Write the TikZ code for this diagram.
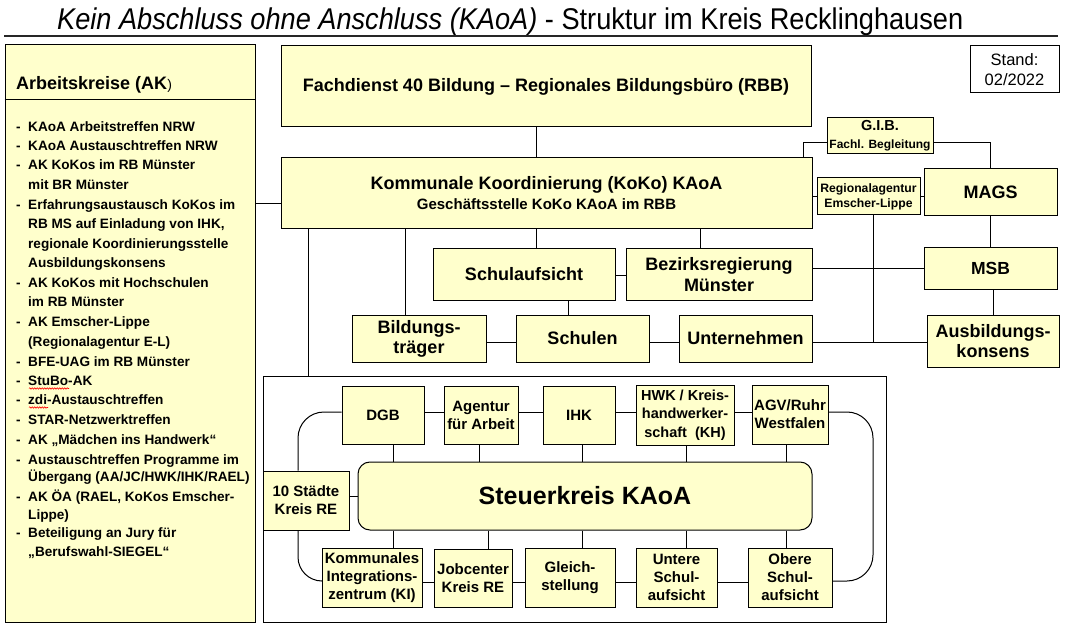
\documentclass[tikz,border=0pt]{standalone}
\usepackage{graphicx}
\usepackage{fontspec}
\setmainfont{Liberation Sans}
\usetikzlibrary{decorations.pathmorphing}
\definecolor{boxyellow}{RGB}{255,255,204}
\newcommand\akdash{\makebox[12pt][l]{-}}
\newcommand\akind{\hspace*{12pt}}
\begin{document}
\begin{tikzpicture}[x=1pt,y=-1pt,
  box/.style={draw=black, line width=1pt, fill=boxyellow, inner sep=0pt, align=center},
  wbox/.style={draw=black, line width=1pt, fill=white, inner sep=0pt, align=center},
  conn/.style={draw=black, line width=1pt},
  fs/.style 2 args={font=\fontsize{#1}{#2}\selectfont\bfseries},
  fr/.style 2 args={font=\fontsize{#1}{#2}\selectfont},
  spell/.style={draw=red, line width=0.6pt, decorate, decoration={snake, amplitude=0.7pt, segment length=2.5pt}}]
\useasboundingbox (0,0) rectangle (1066,631);
\fill[white] (0,0) rectangle (1066,631);
% title
\node[anchor=base west, inner sep=0pt] (title) at (57,30) {\resizebox{906pt}{\height}{\fontsize{30}{30}\selectfont\itshape Kein Abschluss ohne Anschluss (KAoA)\upshape{} - Struktur im Kreis Recklinghausen}};
\draw[line width=1.2pt, black!85] (4,36) -- (1058,36);
% left panel
\node[box, minimum width=250pt, minimum height=577pt] (lp) at (130,333.5) {};
\draw[line width=1pt] (lp.west |- 0,100) -- (lp.east |- 0,100);
\node[anchor=base west, inner sep=0pt, fs={18}{20}] (akhead) at (16,90) {Arbeitskreise (AK{\mdseries\fontsize{14}{14}\selectfont )}};
\foreach \yy/\tx [count=\i] in {
127/{\akdash KAoA Arbeitstreffen NRW},
146/{\akdash KAoA Austauschtreffen NRW},
165/{\akdash AK KoKos im RB Münster},
185/{\akind mit BR Münster},
205/{\akdash Erfahrungsaustausch KoKos im},
224/{\akind RB MS auf Einladung von IHK,},
244/{\akind regionale Koordinierungsstelle},
263/{\akind Ausbildungskonsens},
283/{\akdash AK KoKos mit Hochschulen},
302/{\akind im RB Münster},
322/{\akdash AK Emscher-Lippe},
342/{\akind (Regionalagentur E-L)},
362/{\akdash BFE-UAG im RB Münster},
381/{\akdash StuBo-AK},
400/{\akdash zdi-Austauschtreffen},
420/{\akdash STAR-Netzwerktreffen},
440/{\akdash AK „Mädchen ins Handwerk“},
460/{\akdash Austauschtreffen Programme im},
477/{\akind Übergang (AA/JC/HWK/IHK/RAEL)},
497/{\akdash AK ÖA (RAEL, KoKos Emscher-},
515/{\akind Lippe)},
533/{\akdash Beteiligung an Jury für},
552/{\akind „Berufswahl-SIEGEL“}}
  \node[anchor=base west, inner sep=0pt, fs={13.6}{15}] (ak\i) at (16,\yy+4.8) {\tx};
\draw[spell] (29,388.5) -- (69,388.5);
\draw[spell] (29,407.5) -- (48,407.5);
% upper boxes
\node[box, minimum width=530pt, minimum height=81pt, fs={18}{21}] (fach) at (546,86.5) {Fachdienst 40 Bildung – Regionales Bildungsbüro (RBB)};
\node[wbox, minimum width=89pt, minimum height=47pt, fr={16.5}{20}] (stand) at (1014.5,69.5) {Stand:\\02/2022};
\node[box, minimum width=106pt, minimum height=36pt, fs={14.5}{18}] (gib) at (880,136) {G.I.B.\\{\fontsize{12}{18}\selectfont Fachl. Begleitung}};
\node[box, minimum width=531pt, minimum height=71pt, fs={18}{20}] (koko) at (546.5,193.5) {Kommunale Koordinierung (KoKo) KAoA\\{\fontsize{15}{20}\selectfont Geschäftsstelle KoKo KAoA im RBB}};
\node[box, minimum width=103pt, minimum height=37pt, fs={12.2}{15}] (regio) at (868.5,196.5) {Regionalagentur\\Emscher-Lippe};
\node[box, minimum width=133pt, minimum height=47pt, fs={18}{21}] (mags) at (990.5,192.5) {MAGS};
\node[box, minimum width=182pt, minimum height=51pt, fs={18}{21}] (schulauf) at (524,274.5) {Schulaufsicht};
\node[box, minimum width=186pt, minimum height=51pt, fs={18}{21}] (bezirk) at (719,274.5) {Bezirksregierung\\Münster};
\node[box, minimum width=133pt, minimum height=41pt, fs={17.5}{21}] (msb) at (990.5,268.5) {MSB};
\node[box, minimum width=134pt, minimum height=47pt, fs={18}{20}] (bildtr) at (419,338.5) {Bildungs-\\träger};
\node[box, minimum width=133pt, minimum height=47pt, fs={18}{20}] (schulen) at (582.5,338.5) {Schulen};
\node[box, minimum width=133pt, minimum height=47pt, fs={18}{20}] (untern) at (745.5,338.5) {Unternehmen};
\node[box, minimum width=132pt, minimum height=52pt, fs={18}{20}] (ausb) at (993,341) {Ausbildungs-\\konsens};
% lower frame
\node[wbox, minimum width=623pt, minimum height=246pt] (frame) at (574.5,499) {};
\node[box, minimum width=82pt, minimum height=58pt, fs={15}{18}] (dgb) at (383,415) {DGB};
\node[box, minimum width=74pt, minimum height=58pt, fs={15}{18}] (aa) at (481,415) {Agentur\\für Arbeit};
\node[box, minimum width=72pt, minimum height=58pt, fs={15}{18}] (ihk) at (579,415) {IHK};
\node[box, minimum width=98pt, minimum height=60pt, fs={14.5}{18.5}] (hwk) at (685,415) {HWK / Kreis-\\handwerker-\\schaft\ \ (KH)};
\node[box, minimum width=76pt, minimum height=59pt, fs={15}{18}] (agv) at (790,414.5) {AGV/Ruhr\\Westfalen};
\node[box, rounded corners=12pt, minimum width=454pt, minimum height=68pt, fs={25}{28}] (steuer) at (585,496) {Steuerkreis KAoA};
\node[box, minimum width=86pt, minimum height=59pt, fs={15}{18}] (staedte) at (306,500.5) {10 Städte\\Kreis RE};
\node[box, minimum width=100pt, minimum height=59pt, fs={15}{18}] (ki) at (372,577.5) {Kommunales\\Integrations-\\zentrum (KI)};
\node[box, minimum width=78pt, minimum height=58pt, fs={15}{18}] (jc) at (473,578) {Jobcenter\\Kreis RE};
\node[box, minimum width=90pt, minimum height=59pt, fs={15}{18}] (gleich) at (570,577.5) {Gleich-\\stellung};
\node[box, minimum width=81pt, minimum height=59pt, fs={15}{18}] (usa) at (676.5,577.5) {Untere\\Schul-\\aufsicht};
\node[box, minimum width=84pt, minimum height=59pt, fs={15}{18}] (osa) at (790,577.5) {Obere\\Schul-\\aufsicht};
% connectors upper part
\coordinate (junc) at (873,342);
\coordinate (rbend) at (873,500);
\draw[conn] (536,0 |- fach.south) -- (536,0 |- koko.north);
\draw[conn] (gib.west |- 0,143) -| (803,0 |- koko.north);
\draw[conn] (gib.east |- 0,143) -| (mags.north);
\draw[conn] (koko.east |- regio.west) -- (regio.west);
\draw[conn] (regio.east) -- (regio.east -| mags.west);
\draw[conn] (873,0 |- regio.south) -- (junc);
\draw[conn] (untern.east |- 0,342) -- (ausb.west |- 0,342);
\draw[conn] (mags.south) -- (mags.south |- msb.north);
\draw[conn] (993,0 |- msb.south) -- (993,0 |- ausb.north);
\draw[conn] (bezirk.east |- 0,269) -- (msb.west |- 0,269);
\draw[conn] (koko.west |- 0,204) -- (lp.east |- 0,204);
\draw[conn] (536,0 |- koko.south) -- (536,0 |- schulauf.north);
\draw[conn] (700,0 |- koko.south) -- (700,0 |- bezirk.north);
\draw[conn] (405,0 |- koko.south) -- (405,0 |- bildtr.north);
\draw[conn] (308,0 |- koko.south) -- (308,0 |- frame.north);
\draw[conn] (schulauf.east |- 0,276) -- (bezirk.west |- 0,276);
\draw[conn] (568,0 |- schulauf.south) -- (568,0 |- schulen.north);
\draw[conn] (bildtr.east |- 0,342) -- (schulen.west |- 0,342);
\draw[conn] (schulen.east |- 0,342) -- (untern.west |- 0,342);
% connectors lower frame
\draw[conn] (dgb.east |- 0,412) -- (aa.west |- 0,412);
\draw[conn] (aa.east |- 0,412) -- (ihk.west |- 0,412);
\draw[conn] (ihk.east |- 0,412) -- (hwk.west |- 0,412);
\draw[conn] (hwk.east |- 0,412) -- (agv.west |- 0,412);
\draw[conn] (ki.east |- 0,582) -- (jc.west |- 0,582);
\draw[conn] (jc.east |- 0,582) -- (gleich.west |- 0,582);
\draw[conn] (gleich.east |- 0,582) -- (usa.west |- 0,582);
\draw[conn] (usa.east |- 0,582) -- (osa.west |- 0,582);
\draw[conn, rounded corners=26pt] (dgb.west |- 0,412) -| (298,0 |- staedte.north);
\draw[conn, rounded corners=24pt] (298,0 |- staedte.south) |- (ki.west |- 0,581);
\draw[conn, rounded corners=26pt] (agv.east |- 0,412) -| (rbend) |- (osa.east |- 0,581);
\draw[conn] (staedte.east |- 0,496) -- (steuer.west |- 0,496);
\foreach \nm/\xx in {dgb/393, aa/479, ihk/582, hwk/686, agv/786}
  \draw[conn] (\xx,0 |- \nm.south) -- (\xx,0 |- steuer.north);
\foreach \nm/\xx in {ki/393, jc/488, gleich/582, usa/686, osa/786}
  \draw[conn] (\xx,0 |- steuer.south) -- (\xx,0 |- \nm.north);
\end{tikzpicture}
\end{document}
